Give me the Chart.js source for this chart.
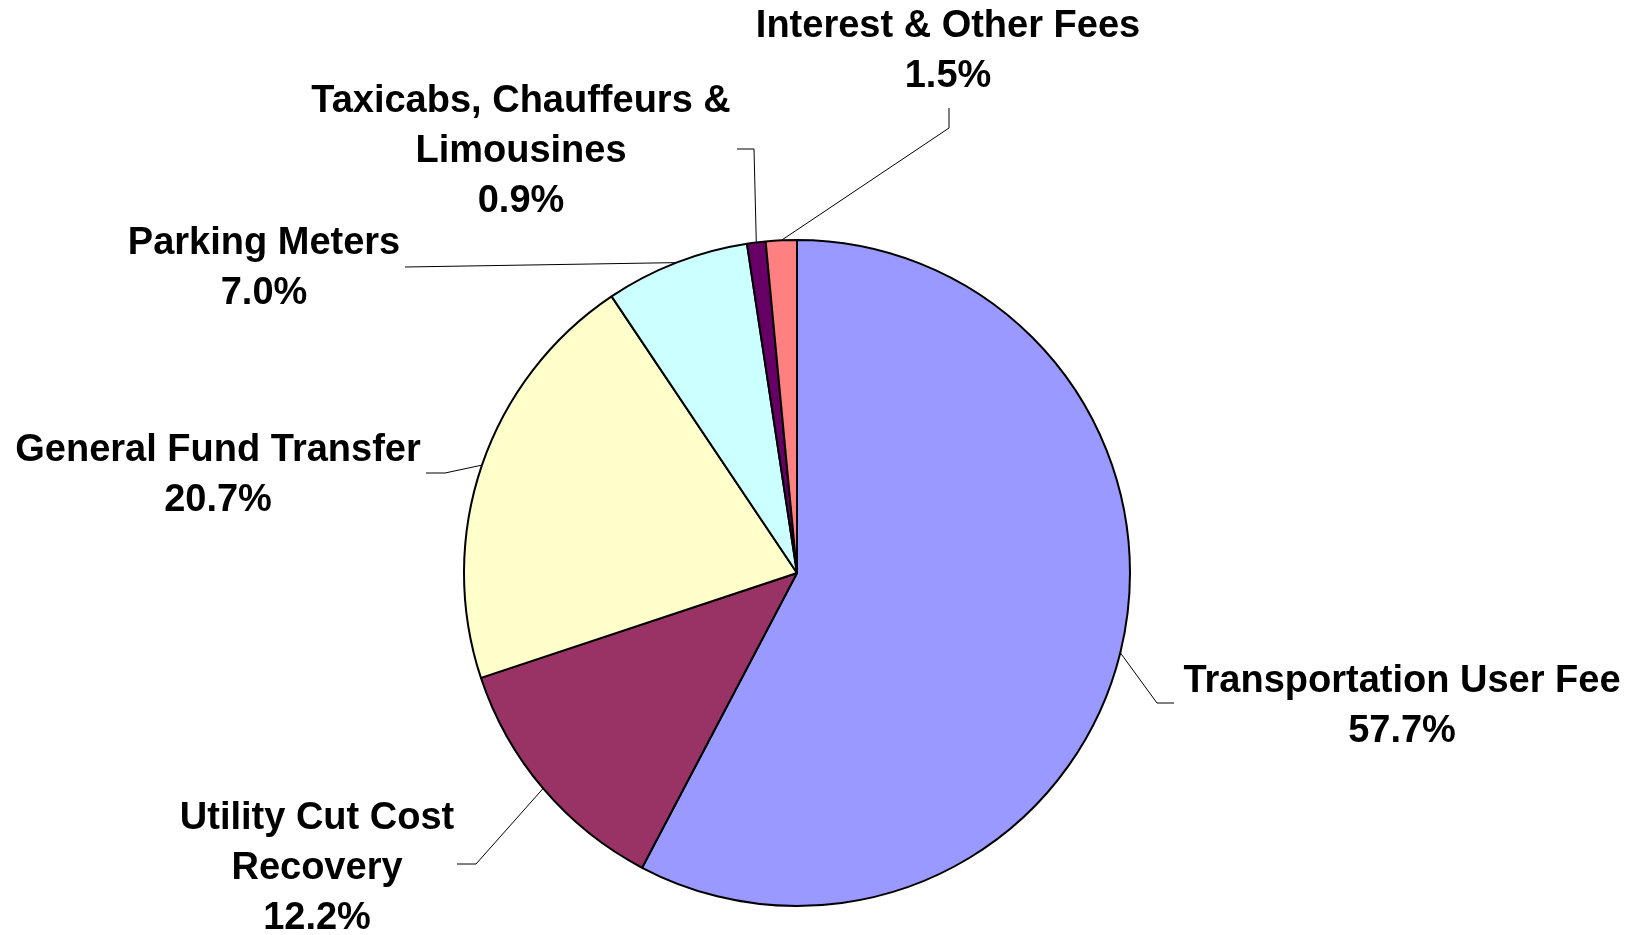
<!DOCTYPE html>
<html>
<head>
<meta charset="utf-8">
<script src="https://cdn.jsdelivr.net/npm/chart.js@4/dist/chart.umd.min.js"></script>
<style>
  html, body { margin: 0; padding: 0; background: #fff; }
  #pie { display: block; }
</style>
</head>
<body>
<canvas id="pie" width="1641" height="935"></canvas>
<script>
// slices, clockwise from 12 o'clock
const categories = [
    ['Transportation User Fee'],
    ['Utility Cut Cost', 'Recovery'],
    ['General Fund Transfer'],
    ['Parking Meters'],
    ['Taxicabs, Chauffeurs &', 'Limousines'],
    ['Interest & Other Fees'],
];
const shares = [57.7, 12.2, 20.7, 7.0, 0.9, 1.5];
const sliceColors = ['#9999FF', '#993366', '#FFFFCC', '#CCFFFF', '#660066', '#FF8080'];

// where each label sits and the elbow of its leader line (pixels)
const labelSpots = [
    { x: 1402, y: 682, path: [[1174, 703], [1157, 703]] },
    { x: 317, y: 819, path: [[457, 864], [476, 864]] },
    { x: 218, y: 451, path: [[426, 473], [445, 473]] },
    { x: 264, y: 244, path: [[405, 267]] },
    { x: 521, y: 102, path: [[737, 149], [754, 149]] },
    { x: 948, y: 27, path: [[949, 108], [949, 128]] },
];

const LINE_H = 50;

const outsideLabels = {
    id: 'outsideLabels',
    afterDraw(chart) {
        const ctx = chart.ctx;
        const arcs = chart.getDatasetMeta(0).data;
        ctx.save();
        arcs.forEach((arc, i) => {
            const spot = labelSpots[i];
            const p = arc.getProps(['x', 'y', 'startAngle', 'endAngle', 'outerRadius'], true);
            const mid = (p.startAngle + p.endAngle) / 2;
            const ex = p.x + Math.cos(mid) * p.outerRadius;
            const ey = p.y + Math.sin(mid) * p.outerRadius;

            ctx.strokeStyle = '#000';
            ctx.lineWidth = 1;
            ctx.beginPath();
            ctx.moveTo(spot.path[0][0], spot.path[0][1]);
            for (let k = 1; k < spot.path.length; k++) ctx.lineTo(spot.path[k][0], spot.path[k][1]);
            ctx.lineTo(ex, ey);
            ctx.stroke();

            const lines = categories[i].concat([shares[i].toFixed(1) + '%']);
            ctx.fillStyle = '#000';
            ctx.font = 'bold 38px "Liberation Sans", Arial, sans-serif';
            ctx.textAlign = 'center';
            ctx.textBaseline = 'middle';
            lines.forEach((t, j) => ctx.fillText(t, spot.x, spot.y + j * LINE_H));
        });
        ctx.restore();
    }
};

new Chart(document.getElementById('pie'), {
    type: 'pie',
    data: {
        labels: categories.map(c => c.join(' ')),
        datasets: [{
            data: shares,
            backgroundColor: sliceColors,
            borderColor: '#000',
            borderWidth: 2,
        }],
    },
    options: {
        responsive: false,
        animation: false,
        layout: {
            padding: { left: 463, right: 510, top: 239, bottom: 28 },
        },
        plugins: {
            legend: { display: false },
            tooltip: { enabled: false },
        },
    },
    plugins: [outsideLabels],
});
</script>
</body>
</html>
